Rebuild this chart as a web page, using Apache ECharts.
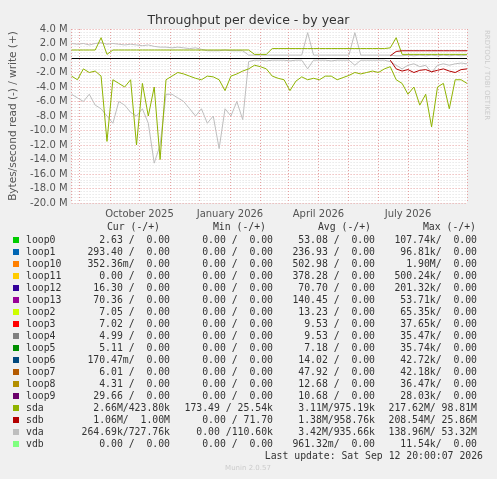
<!DOCTYPE html><html><head><meta charset="utf-8"><script src="https://cdn.jsdelivr.net/npm/echarts@6/dist/echarts.min.js"></script>
<style>html,body{margin:0;background:#f0f0f0}#c{width:497px;height:479px}</style></head><body><div id="c"></div><script>
const startDate='2025-07-24', stepDays=6;
const sdaRead=[-2.5,-3,-1.5,-2,-1.8,-2.5,-11.5,-3,-3.5,-4,-3,-12,-3.5,-8,-4,-14,-3,-2.5,-2,-2.2,-2.5,-2.8,-3,-2.5,-2.6,-3,-4.5,-2.5,-2.2,-1.8,-1.5,-1,-1.2,-1.5,-2.5,-2.8,-3,-4.5,-3.2,-2.6,-3,-2.8,-3,-2.5,-2.5,-3,-2.7,-2.4,-2,-2.2,-2,-1.8,-2,-1.5,-1.2,-3,-3.5,-5,-4,-6.5,-5,-9.5,-4,-3.5,-7,-3,-3,-3.5];
const sdaWrite=[1.1,1.1,1.1,1.1,1.1,2.8,0.5,1.1,1.1,1.1,1.1,1.1,1.1,1.1,1.1,1.1,1.1,1.1,1.1,1.1,1.1,1.1,1.1,1.1,1.1,1.1,1.1,1.1,1.1,1.1,1.1,0.5,0.5,0.5,1.3,1.3,1.3,1.3,1.3,1.3,1.3,1.3,1.3,1.3,1.3,1.3,1.3,1.3,1.3,1.3,1.3,1.3,1.3,1.3,1.4,2.8,0.5,0.5,0.5,0.5,0.5,0.5,0.5,0.5,0.5,0.5,0.5,0.5];
const vdaRead=[-5,-5.5,-6,-5,-6.5,-7,-8,-9,-6,-6.5,-7.5,-8,-7,-9,-14.5,-12,-5,-5,-5.5,-6,-7,-8,-7,-9,-8,-12.5,-7,-8,-6,-8.5,-0.5,-0.3,-0.3,-0.4,-0.3,-0.3,-0.3,-0.4,-0.3,-0.3,-1.5,-0.3,-0.3,-0.3,-0.4,-0.3,-0.3,-0.3,-1,-0.3,-0.3,-0.3,-0.3,-0.3,-0.5,-1,-1.5,-1,-0.8,-1.2,-1,-2,-1,-0.8,-1,-0.8,-0.7,-0.8];
const vdaWrite=[2,1.9,2,1.8,2,2.1,1.9,2,1.9,1.8,1.9,1.8,1.7,1.8,1.6,1.5,1.5,1.4,1.5,1.4,1.3,1.4,1.2,1,1,1,1.1,1,1,1,0.4,0.4,0.4,0.4,0.4,0.4,0.4,0.4,0.4,0.4,3.5,0.4,0.4,0.4,0.4,0.4,0.4,0.4,3.5,0.4,0.4,0.4,0.4,0.4,0.4,0.3,0.3,0.4,0.3,0.4,0.3,0.4,0.3,0.4,0.3,0.4,0.3,0.4];
const sdbRead=[null,null,null,null,null,null,null,null,null,null,null,null,null,null,null,null,null,null,null,null,null,null,null,null,null,null,null,null,null,null,null,null,null,null,null,null,null,null,null,null,null,null,null,null,null,null,null,null,null,null,null,null,null,null,-0.3,-1.5,-1.8,-1.6,-2,-1.7,-1.6,-1.9,-1.7,-1.5,-1.8,-2,-1.6,-1.5];
const sdbWrite=[null,null,null,null,null,null,null,null,null,null,null,null,null,null,null,null,null,null,null,null,null,null,null,null,null,null,null,null,null,null,null,null,null,null,null,null,null,null,null,null,null,null,null,null,null,null,null,null,null,null,null,null,null,null,0.3,0.9,1,1,1,1,1,1,1,1,1,1,1,1];
const devices=['loop0','loop1','loop10','loop11','loop12','loop13','loop2','loop3','loop4','loop5','loop6','loop7','loop8','loop9','sda','sdb','vda','vdb'];
const colors=['#00cc00','#0066b3','#ff8000','#ffcc00','#330099','#990099','#ccff00','#ff0000','#808080','#008f00','#00487d','#b35a00','#b38f00','#6b006b','#8fb300','#b30000','#bebebe','#80ff80'];
const curCol=['2.63 /  0.00','293.40 /  0.00','352.36m/  0.00','0.00 /  0.00','16.30 /  0.00','70.36 /  0.00','7.05 /  0.00','7.02 /  0.00','4.99 /  0.00','5.11 /  0.00','170.47m/  0.00','6.01 /  0.00','4.31 /  0.00','29.66 /  0.00','2.66M/423.80k','1.06M/  1.00M','264.69k/727.76k','0.00 /  0.00'];
const minCol=['0.00 /  0.00','0.00 /  0.00','0.00 /  0.00','0.00 /  0.00','0.00 /  0.00','0.00 /  0.00','0.00 /  0.00','0.00 /  0.00','0.00 /  0.00','0.00 /  0.00','0.00 /  0.00','0.00 /  0.00','0.00 /  0.00','0.00 /  0.00','173.49 / 25.54k','0.00 / 71.70','0.00 /110.60k','0.00 /  0.00'];
const avgCol=['53.08 /  0.00','236.93 /  0.00','502.98 /  0.00','378.28 /  0.00','70.70 /  0.00','140.45 /  0.00','13.23 /  0.00','9.53 /  0.00','9.53 /  0.00','7.18 /  0.00','14.02 /  0.00','47.92 /  0.00','12.68 /  0.00','10.68 /  0.00','3.11M/975.19k','1.38M/958.76k','3.42M/935.66k','961.32m/  0.00'];
const maxCol=['107.74k/  0.00','96.81k/  0.00','1.90M/  0.00','500.24k/  0.00','201.32k/  0.00','53.71k/  0.00','65.35k/  0.00','37.65k/  0.00','35.47k/  0.00','35.74k/  0.00','42.72k/  0.00','42.18k/  0.00','36.47k/  0.00','28.03k/  0.00','217.62M/ 98.81M','208.54M/ 25.86M','138.96M/ 53.32M','11.54k/  0.00'];

const t0=new Date(startDate+'T00:00:00Z').getTime(), D=86400000;
const pts=a=>a.map((v,i)=>[t0+i*stepDays*D,v==null?null:v*1e6]);
const ln=(name,data,color)=>({type:'line',name,data:pts(data),showSymbol:false,lineStyle:{width:1,color},itemStyle:{color},connectNulls:false,animation:false,z:3});
const mono='DejaVu Sans Mono';
const F='9.8px '+mono;
const g=[];
const ly=240,dy=12;
[['Cur (-/+)',160],['Min (-/+)',266],['Avg (-/+)',371],['Max (-/+)',476]].forEach(([t,x])=>g.push({type:'text',x,y:227,style:{text:t,font:F,fill:'#333',align:'right',verticalAlign:'middle'}}));
devices.forEach((d,i)=>{const y=ly+i*dy;
 g.push({type:'rect',shape:{x:13,y:y-3,width:6,height:6},style:{fill:colors[i]}});
 g.push({type:'text',x:26,y,style:{text:d,font:F,fill:'#333',verticalAlign:'middle'}});
 [[curCol,170],[minCol,273],[avgCol,375],[maxCol,477]].forEach(([c,x])=>g.push({type:'text',x,y,style:{text:c[i],font:F,fill:'#333',align:'right',verticalAlign:'middle'}}));
});
g.push({type:'text',x:483,y:456,style:{text:'Last update: Sat Sep 12 20:00:07 2026',font:F,fill:'#333',align:'right',verticalAlign:'middle'}});
g.push({type:'text',x:248,y:468,style:{text:'Munin 2.0.57',font:'7px DejaVu Sans',fill:'#ccc',align:'center',verticalAlign:'middle'}});
g.push({type:'text',x:487,y:75,rotation:-Math.PI/2,style:{text:'RRDTOOL / TOBI OETIKER',font:'7px DejaVu Sans',fill:'#ccc',align:'center',verticalAlign:'middle'}});
const months=[9,0,3,6];
const chart=echarts.init(document.getElementById('c'),null,{renderer:'canvas'});
chart.setOption({backgroundColor:'#f0f0f0',animation:false,
 title:{text:'Throughput per device - by year',left:'center',top:9,textStyle:{fontFamily:'DejaVu Sans',fontSize:12.5,fontWeight:'normal',color:'#333'}},
 grid:{left:66,right:30,top:29,bottom:276,backgroundColor:'#ffffff',show:true,borderWidth:0},
 xAxis:{type:'time',min:t0,max:t0+67*stepDays*D,splitNumber:14,
  axisLine:{show:false},axisTick:{show:false},
  axisLabel:{fontFamily:'DejaVu Sans',fontSize:10,color:'#555',margin:6,hideOverlap:false,formatter:v=>{const d=new Date(v);const n=['January','February','March','April','May','June','July','August','September','October','November','December'];return d.getUTCDate()===1&&months.includes(d.getUTCMonth())?n[d.getUTCMonth()]+' '+d.getUTCFullYear():'';}},
  splitLine:{show:true,lineStyle:{color:'#e6a0a0',type:[1,2],width:1}}},
 yAxis:{type:'value',min:-20e6,max:4e6,interval:2e6,name:'Bytes/second read (-) / write (+)',nameLocation:'middle',nameGap:52,nameTextStyle:{fontFamily:'DejaVu Sans',fontSize:10.5,color:'#555'},
  axisLine:{show:false},axisTick:{show:false},
  axisLabel:{fontFamily:'DejaVu Sans',fontSize:10,color:'#555',margin:4,formatter:v=>(v/1e6).toFixed(1)+' M'},
  splitLine:{lineStyle:{color:'#e6a0a0',type:[1,2]}},minorTick:{show:false},minorSplitLine:{show:true,lineStyle:{color:'#ddd',type:[1,2]}}},
 graphic:g,
 series:[ln('vda read',vdaRead,'#bebebe'),ln('vda write',vdaWrite,'#bebebe'),ln('sda read',sdaRead,'#8fb300'),ln('sda write',sdaWrite,'#8fb300'),ln('sdb read',sdbRead,'#b30000'),ln('sdb write',sdbWrite,'#b30000'),
  {type:'line',data:[],markLine:{silent:true,symbol:'none',label:{show:false},lineStyle:{color:'#000',type:'solid',width:1},data:[{yAxis:0}]},z:4}]
});
</script></body></html>
